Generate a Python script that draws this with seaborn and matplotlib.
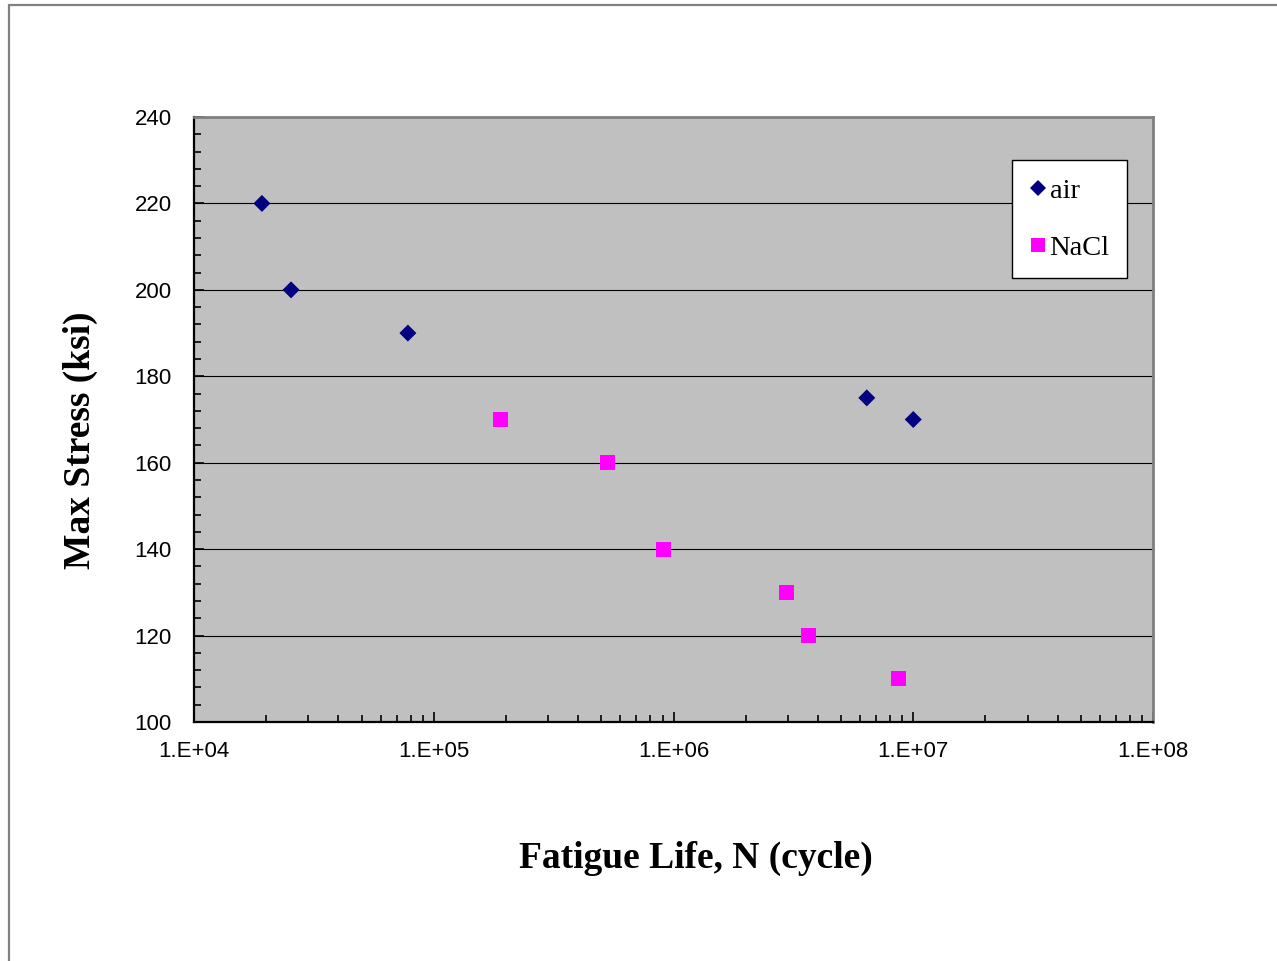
import matplotlib
matplotlib.use("Agg")
import matplotlib.pyplot as plt
import seaborn as sns
import pandas as pd
import numpy as np
from matplotlib.lines import Line2D
from matplotlib.ticker import FixedLocator, NullFormatter, LogLocator

# Data
air_cycles = [1.92e4, 2.54e4, 7.8e4, 6.4e6, 1.0e7]
air_stress = [220, 200, 190, 175, 170]
nacl_cycles = [1.9e5, 5.3e5, 9.1e5, 2.96e6, 3.65e6, 8.7e6]
nacl_stress = [170, 160, 140, 130, 120, 110]
series_names = ["air", "NaCl"]
x_ticks = [1e4, 1e5, 1e6, 1e7, 1e8]
x_ticklabels = ["1.E+04", "1.E+05", "1.E+06", "1.E+07", "1.E+08"]
y_ticks = [100, 120, 140, 160, 180, 200, 220, 240]

df = pd.DataFrame({
    "cycles": air_cycles + nacl_cycles,
    "stress": air_stress + nacl_stress,
    "series": [series_names[0]] * len(air_cycles) + [series_names[1]] * len(nacl_cycles),
})

sns.set_style("white")
plt.rcParams["font.family"] = ["Liberation Sans", "DejaVu Sans"]
plt.rcParams["text.color"] = "black"
plt.rcParams["axes.labelcolor"] = "black"
plt.rcParams["xtick.color"] = "black"
plt.rcParams["ytick.color"] = "black"

fig = plt.figure(figsize=(12.77, 9.61), dpi=100)
ax = fig.add_axes([194 / 1277, 1 - 722 / 961, (1153 - 194) / 1277, (722 - 117) / 961])
ax.set_facecolor("#c0c0c0")

sns.scatterplot(data=df, x="cycles", y="stress", hue="series", style="series", size="series",
                palette={"air": "#000080", "NaCl": "#ff00ff"},
                markers={"air": "D", "NaCl": "s"},
                sizes={"air": 75, "NaCl": 115},
                linewidth=0, edgecolor="none", ax=ax, legend=False, zorder=3)

ax.set_xscale("log")
ax.set_xlim(1e4, 1e8)
ax.set_ylim(100, 240)
ax.xaxis.set_major_locator(FixedLocator(x_ticks))
ax.set_xticklabels(x_ticklabels)
ax.xaxis.set_minor_locator(LogLocator(base=10, subs=np.arange(2, 10)))
ax.xaxis.set_minor_formatter(NullFormatter())
ax.set_yticks(y_ticks)
ax.yaxis.set_minor_locator(FixedLocator(np.arange(100, 241, 4)))

ax.grid(axis="y", which="major", color="black", linewidth=0.8)
ax.grid(axis="x", visible=False)
ax.set_axisbelow(True)

ax.tick_params(axis="both", which="major", direction="in", length=7, width=1.2,
               color="black", labelsize=16, labelcolor="black")
ax.tick_params(axis="y", which="major", pad=16)
ax.tick_params(axis="x", which="major", pad=14)
ax.tick_params(axis="both", which="minor", direction="in", length=5, width=1.2, color="black")
ax.tick_params(left=True, bottom=True, which="both")

for side in ["left", "bottom"]:
    ax.spines[side].set_color("black")
    ax.spines[side].set_linewidth(1.6)
for side in ["top", "right"]:
    ax.spines[side].set_color("#808080")
    ax.spines[side].set_linewidth(2)
    ax.spines[side].set_visible(True)

ax.set_xlabel("Fatigue Life, N (cycle)", family=["Liberation Serif", "DejaVu Serif"],
              fontsize=27, fontweight="bold", color="black")
ax.set_ylabel("Max Stress (ksi)", family=["Liberation Serif", "DejaVu Serif"],
              fontsize=27, fontweight="bold", color="black")
ax.xaxis.set_label_coords((696 - 194) / 959, -(858 - 722) / 605)
ax.yaxis.set_label_coords((80 - 194) / 959, (722 - 440) / 605)
ax.xaxis.label.set_va("center")
ax.yaxis.label.set_va("center")

handles = [
    Line2D([], [], marker="D", color="#000080", linestyle="none", markersize=8, markeredgewidth=0),
    Line2D([], [], marker="s", color="#ff00ff", linestyle="none", markersize=10, markeredgewidth=0),
]
leg = ax.legend(handles, series_names, loc="upper left",
                bbox_to_anchor=((1012 - 194) / 959, (722 - 160) / 605),
                borderaxespad=0, frameon=True, fancybox=False, framealpha=1,
                prop={"family": ["Liberation Serif", "DejaVu Serif"], "size": 20.5},
                handlelength=0.6, handletextpad=0.1, labelspacing=1.1,
                borderpad=0.62)
leg.get_frame().set_edgecolor("black")
leg.get_frame().set_linewidth(1.0)
leg.get_frame().set_facecolor("white")
for t in leg.get_texts():
    t.set_color("black")

# figure border (left and top visible)
fig.add_artist(Line2D([9 / 1277, 9 / 1277], [-0.01, 1 - 5 / 961], transform=fig.transFigure,
                      color="#808080", linewidth=1.6))
fig.add_artist(Line2D([9 / 1277, 1.01], [1 - 5 / 961, 1 - 5 / 961], transform=fig.transFigure,
                      color="#808080", linewidth=1.6))

fig.savefig("out.png", dpi=100, facecolor="white")
